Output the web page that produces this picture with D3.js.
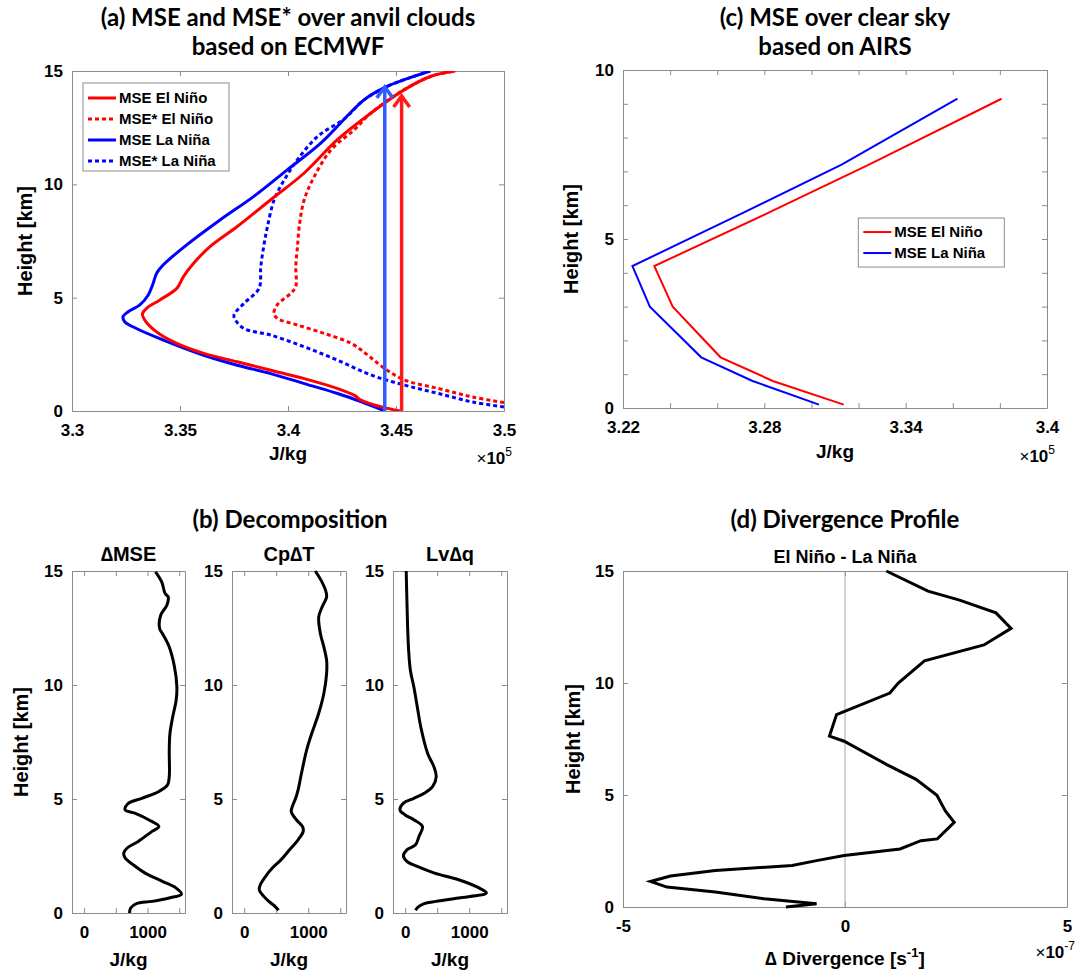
<!DOCTYPE html>
<html>
<head>
<meta charset="utf-8">
<script src="https://cdn.jsdelivr.net/npm/d3@7"></script>
<style>
  body { margin: 0; background: #fff; }
  text { font-family: "Liberation Sans", Arial, sans-serif; font-weight: bold; fill: #000; }
  .ttl { font-family: Lato, "Open Sans", sans-serif; font-weight: bold; }
</style>
</head>
<body>
<div id="chart"></div>
<script>
// ---- panel (a): ECMWF, heights in km, MSE in 1e5 J/kg
var mseNinoZ = [0, 0.18, 0.47, 0.69, 0.99, 1.43, 1.8, 2.17, 2.54, 2.98, 3.5, 4.01, 4.28, 4.53, 4.9, 5.41, 5.93, 6.52, 7.26, 8.14, 9.32, 10.5, 11.98, 13.16, 14.19, 14.78, 15];
var mseNinoX = [3.4519, 3.4433, 3.434, 3.4308, 3.423, 3.4075, 3.392, 3.3765, 3.361, 3.3485, 3.339, 3.3337, 3.3326, 3.3345, 3.3407, 3.3485, 3.3516, 3.3563, 3.364, 3.3765, 3.392, 3.4075, 3.423, 3.4386, 3.4541, 3.4666, 3.4774];
var mseNinaZ = [0, 0.4, 0.77, 1.21, 1.65, 2.02, 2.46, 3.13, 3.64, 3.94, 4.16, 4.38, 4.68, 5.12, 5.56, 6.08, 6.45, 7.33, 8.44, 9.47, 10.65, 11.83, 13.75, 14.34, 14.63, 15];
var mseNinaX = [3.4448, 3.434, 3.423, 3.4075, 3.392, 3.3765, 3.361, 3.3423, 3.3298, 3.3244, 3.3236, 3.326, 3.3314, 3.3353, 3.3373, 3.3392, 3.3423, 3.3531, 3.3687, 3.3842, 3.3998, 3.4153, 3.4355, 3.4464, 3.4542, 3.4658];
var mseStarNinoZ = [0.37, 0.62, 0.99, 1.36, 1.87, 2.46, 2.98, 3.42, 3.79, 4.09, 4.31, 4.68, 5.19, 5.49, 6.37, 7.26, 8.14, 9.32, 10.35, 11.53, 12.42, 13.16, 14.19, 14.78, 15];
var mseStarNinoX = [3.5, 3.4853, 3.4697, 3.4541, 3.4448, 3.437, 3.4293, 3.4169, 3.4044, 3.395, 3.3935, 3.395, 3.4013, 3.4036, 3.4036, 3.4044, 3.4052, 3.4075, 3.4122, 3.42, 3.4308, 3.4386, 3.4541, 3.4666, 3.4774];
var mseStarNinaZ = [0.18, 0.4, 0.77, 1.14, 1.58, 2.24, 2.83, 3.35, 3.64, 4.01, 4.23, 4.75, 5.41, 6.37, 7.4, 8.14, 9.32, 10.2, 11.09, 12.12, 12.9, 13.75, 14.34, 14.63, 15];
var mseStarNinaX = [3.5, 3.4853, 3.4697, 3.4541, 3.4386, 3.423, 3.4075, 3.392, 3.3796, 3.3757, 3.375, 3.3796, 3.3866, 3.3874, 3.389, 3.3905, 3.3936, 3.3983, 3.4044, 3.4138, 3.4262, 3.4355, 3.4464, 3.4542, 3.4658];
var arrowX = [3.4448, 3.4526];
var arrowTop = [14.3, 13.9];
var arrowColors = ["#2f5dff", "#ff1a1a"];

// ---- panel (c): AIRS clear sky
var airsZ = [0.1, 0.8, 1.5, 3.0, 4.2, 5.8, 7.2, 9.15];
var airsNino = [3.3137, 3.2836, 3.2614, 3.2411, 3.2333, 3.2825, 3.3244, 3.3807];
var airsNina = [3.3032, 3.275, 3.2532, 3.2314, 3.224, 3.2718, 3.3128, 3.362];

// ---- panel (b): decomposition, J/kg
var dMseZ = [0, 0.22, 0.41, 0.51, 0.66, 0.83, 1.09, 1.39, 1.75, 2.12, 2.41, 2.63, 2.85, 3.14, 3.58, 3.79, 4.09, 4.38, 4.52, 4.79, 5.03, 5.33, 5.62, 5.98, 7.15, 7.88, 8.61, 9.34, 9.92, 10.8, 11.67, 12.26, 12.48, 13.06, 13.5, 13.86, 14.01, 14.52, 14.96];
var dMseX = [717, 734, 826, 1071, 1342, 1535, 1451, 1234, 962, 772, 647, 625, 679, 853, 1071, 1179, 1016, 799, 647, 690, 908, 1179, 1315, 1342, 1342, 1353, 1397, 1451, 1462, 1424, 1342, 1234, 1190, 1207, 1304, 1326, 1277, 1223, 1125];
var cpDtZ = [0.12, 0.26, 0.51, 0.73, 1.02, 1.24, 1.6, 1.97, 2.33, 2.77, 3.21, 3.58, 3.79, 4.09, 4.45, 4.74, 5.03, 5.4, 6.13, 7.15, 7.88, 8.76, 9.63, 10.5, 11.09, 11.67, 12.26, 12.99, 13.42, 13.86, 14.15, 14.59, 15];
var cpDtX = [536, 493, 386, 306, 236, 252, 332, 440, 574, 708, 842, 922, 912, 815, 735, 761, 804, 842, 895, 976, 1056, 1164, 1244, 1287, 1287, 1244, 1190, 1164, 1217, 1287, 1271, 1201, 1110];
var lvDqZ = [0.12, 0.26, 0.41, 0.51, 0.66, 0.88, 1.09, 1.46, 1.75, 2.04, 2.26, 2.51, 2.77, 2.99, 3.36, 3.79, 4.09, 4.3, 4.52, 4.82, 5.03, 5.25, 5.55, 5.98, 6.42, 7.0, 8.17, 9.05, 9.92, 10.65, 11.53, 12.55, 13.72, 15];
var lvDqX = [162, 200, 297, 485, 836, 1268, 1160, 836, 458, 189, 27, -27, 27, 162, 216, 270, 135, 0, -81, -27, 135, 297, 431, 485, 448, 351, 243, 189, 135, 81, 54, 38, 27, 16];
var decompTitles = ["\u2206MSE", "Cp\u2206T", "Lv\u2206q"];

// ---- panel (d): divergence difference, 1e-7 s^-1
var divZ = [0, 0.15, 0.37, 0.67, 0.89, 1.14, 1.38, 1.63, 1.85, 2.07, 2.3, 2.59, 2.96, 3.04, 3.78, 4.29, 4.99, 5.7, 6.37, 7.4, 7.63, 8.59, 9.55, 10.0, 10.99, 11.7, 12.44, 13.13, 13.7, 14.1, 15];
var divX = [-1.33, -0.64, -1.82, -2.92, -4.01, -4.38, -3.93, -2.92, -1.19, -0.64, -0.02, 1.24, 1.71, 2.08, 2.46, 2.26, 2.07, 1.6, 0.93, -0.02, -0.35, -0.19, 1.01, 1.2, 1.79, 3.13, 3.74, 3.4, 2.58, 1.87, 0.93];

var svg = d3.select("#chart").append("svg")
    .attr("width", 1086).attr("height", 972);
svg.append("rect").attr("width", 1086).attr("height", 972).attr("fill", "#fff");

var axisGray = "#8c8c8c";

// draws a MATLAB-like boxed axes and returns its scales
function makeAxes(b, xDom, yDom, xTicks, xLab, yTicks, yLab, fmt) {
  var x = d3.scaleLinear().domain(xDom).range([b.x, b.x + b.w]);
  var y = d3.scaleLinear().domain(yDom).range([b.y + b.h, b.y]);
  var g = svg.append("g");
  function lab(list) { return function(d) { return list.indexOf(d) >= 0 ? fmt(d) : ""; }; }
  var ax = [
    [d3.axisBottom(x).tickValues(xTicks).tickFormat(lab(xLab)).tickPadding(13), "translate(0," + (b.y + b.h) + ")"],
    [d3.axisTop(x).tickValues(xTicks).tickFormat(""), "translate(0," + b.y + ")"],
    [d3.axisLeft(y).tickValues(yTicks).tickFormat(lab(yLab)).tickPadding(9), "translate(" + b.x + ",0)"],
    [d3.axisRight(y).tickValues(yTicks).tickFormat(""), "translate(" + (b.x + b.w) + ",0)"]
  ];
  ax.forEach(function(a) {
    var s = g.append("g").attr("transform", a[1])
      .call(a[0].tickSizeInner(-5).tickSizeOuter(0));
    s.select(".domain").attr("stroke", axisGray);
    s.selectAll(".tick line").attr("stroke", axisGray);
    s.selectAll(".tick text").attr("font-size", 17).attr("fill", "#000")
      .attr("font-family", "Liberation Sans, Arial, sans-serif").attr("font-weight", "bold");
  });
  return {x: x, y: y};
}

function line(sc, xs, zs, curve) {
  return d3.line().curve(curve || d3.curveLinear)
    .x(function(d, i) { return sc.x(xs[i]); }).y(function(d, i) { return sc.y(zs[i]); })(zs);
}

function yLabel(cx, cy) {
  svg.append("text").attr("transform", "translate(" + cx + "," + cy + ") rotate(-90)")
    .attr("text-anchor", "middle").attr("font-size", 20).text("Height [km]");
}

function expLabel(xr, yy, base, exp) {
  var t = svg.append("text").attr("x", xr).attr("y", yy).attr("text-anchor", "end").attr("font-size", 17);
  t.append("tspan").attr("font-weight", "normal").text("\u00d7");
  t.append("tspan").text(base);
  t.append("tspan").attr("dy", -8).attr("font-size", 12).attr("font-weight", "normal").text(exp);
}

function title(cx, cy, txt, size) {
  svg.append("text").attr("class", "ttl").attr("x", cx).attr("y", cy)
    .attr("text-anchor", "middle").attr("font-size", size || 24).text(txt);
}

var smooth = d3.curveCatmullRom.alpha(0.5);

// ================= panel (a)
var fmtA = function(d) { return String(+d.toFixed(2)); };
var bA = {x: 72, y: 71, w: 432, h: 340};
var sA = makeAxes(bA, [3.3, 3.5], [0, 15], [3.3, 3.35, 3.4, 3.45, 3.5], [3.3, 3.35, 3.4, 3.45, 3.5],
  [0, 5, 10, 15], [0, 5, 10, 15], fmtA);
var aSeries = [
  {xs: mseStarNinaX, zs: mseStarNinaZ, c: "#0000ff", dash: "4,3"},
  {xs: mseStarNinoX, zs: mseStarNinoZ, c: "#ff0000", dash: "4,3"},
  {xs: mseNinaX, zs: mseNinaZ, c: "#0000ff", dash: null},
  {xs: mseNinoX, zs: mseNinoZ, c: "#ff0000", dash: null}
];
svg.append("clipPath").attr("id", "clipA").append("rect")
  .attr("x", bA.x).attr("y", bA.y).attr("width", bA.w).attr("height", bA.h);
aSeries.forEach(function(s) {
  svg.append("path").attr("d", line(sA, s.xs, s.zs, smooth)).attr("fill", "none")
    .attr("stroke", s.c).attr("stroke-width", 3).attr("stroke-dasharray", s.dash)
    .attr("clip-path", "url(#clipA)");
});
arrowX.forEach(function(v, i) {
  var px = sA.x(v), top = sA.y(arrowTop[i]);
  svg.append("line").attr("x1", px).attr("x2", px).attr("y1", sA.y(0)).attr("y2", top + 1)
    .attr("stroke", arrowColors[i]).attr("stroke-width", 3.5);
  svg.append("path").attr("d", "M" + (px - 8) + "," + (top + 11) + "L" + px + "," + top + "L" + (px + 8) + "," + (top + 11))
    .attr("fill", "none").attr("stroke", arrowColors[i]).attr("stroke-width", 3.5);
});
var legA = [["MSE El Ni\u00f1o", "#ff0000", null], ["MSE* El Ni\u00f1o", "#ff0000", "4,3"],
            ["MSE La Ni\u00f1a", "#0000ff", null], ["MSE* La Ni\u00f1a", "#0000ff", "4,3"]];
var lgA = svg.append("g").attr("transform", "translate(" + (bA.x + 11) + "," + (bA.y + 12) + ")");
lgA.append("rect").attr("width", 146).attr("height", 88).attr("fill", "#fff").attr("stroke", "#8c8c8c");
legA.forEach(function(d, i) {
  var yy = 15 + i * 21;
  lgA.append("line").attr("x1", 5).attr("x2", 33).attr("y1", yy).attr("y2", yy)
    .attr("stroke", d[1]).attr("stroke-width", 3).attr("stroke-dasharray", d[2]);
  lgA.append("text").attr("x", 36).attr("y", yy + 5).attr("font-size", 15).text(d[0]);
});
yLabel(32, bA.y + bA.h / 2);
svg.append("text").attr("x", bA.x + bA.w / 2).attr("y", 460).attr("text-anchor", "middle").attr("font-size", 19).text("J/kg");
expLabel(bA.x + bA.w + 8, 464, "10", "5");
title(bA.x + bA.w / 2, 26, "(a) MSE and MSE* over anvil clouds");
title(bA.x + bA.w / 2, 55, "based on ECMWF");

// ================= panel (c)
var bC = {x: 623, y: 70, w: 424, h: 338};
var cTicks = [3.22, 3.24, 3.26, 3.28, 3.30, 3.32, 3.34, 3.36, 3.38, 3.40];
var sC = makeAxes(bC, [3.22, 3.40], [0, 10], cTicks, [3.22, 3.28, 3.34, 3.40],
  d3.range(0, 11), [0, 5, 10], fmtA);
[[airsNina, "#0000ff"], [airsNino, "#ff0000"]].forEach(function(s) {
  svg.append("path").attr("d", line(sC, s[0], airsZ)).attr("fill", "none")
    .attr("stroke", s[1]).attr("stroke-width", 2);
});
var legC = [["MSE El Ni\u00f1o", "#ff0000"], ["MSE La Ni\u00f1a", "#0000ff"]];
var lgC = svg.append("g").attr("transform", "translate(" + (bC.x + 0.555 * bC.w) + "," + (bC.y + 0.438 * bC.h) + ")");
lgC.append("rect").attr("width", 146).attr("height", 49).attr("fill", "#fff").attr("stroke", "#8c8c8c");
legC.forEach(function(d, i) {
  var yy = 14 + i * 21;
  lgC.append("line").attr("x1", 5).attr("x2", 33).attr("y1", yy).attr("y2", yy)
    .attr("stroke", d[1]).attr("stroke-width", 2);
  lgC.append("text").attr("x", 36).attr("y", yy + 5).attr("font-size", 15).text(d[0]);
});
yLabel(578, bC.y + bC.h / 2);
svg.append("text").attr("x", bC.x + bC.w / 2).attr("y", 458).attr("text-anchor", "middle").attr("font-size", 19).text("J/kg");
expLabel(bC.x + bC.w + 8, 462, "10", "5");
title(bC.x + bC.w / 2, 26, "(c) MSE over clear sky");
title(bC.x + bC.w / 2, 55, "based on AIRS");

// ================= panel (b)
var bBs = [{x: 72, y: 571, w: 113, h: 342}, {x: 232, y: 571, w: 114, h: 342}, {x: 393, y: 571, w: 114, h: 342}];
var bData = [[dMseX, dMseZ], [cpDtX, cpDtZ], [lvDqX, lvDqZ]];
bBs.forEach(function(b, i) {
  var s = makeAxes(b, [-190, 1590], [0, 15], [0, 500, 1000, 1500], [0, 1000],
    [0, 5, 10, 15], [0, 5, 10, 15], function(d) { return String(d); });
  svg.append("path").attr("d", line(s, bData[i][0], bData[i][1], smooth)).attr("fill", "none")
    .attr("stroke", "#000").attr("stroke-width", 3);
  svg.append("text").attr("x", b.x + b.w / 2).attr("y", 561).attr("text-anchor", "middle")
    .attr("font-size", 20).text(decompTitles[i]);
  svg.append("text").attr("x", b.x + b.w / 2).attr("y", 966).attr("text-anchor", "middle")
    .attr("font-size", 19).text("J/kg");
});
yLabel(28, 571 + 171);
title(290, 528, "(b) Decomposition");

// ================= panel (d)
var bD = {x: 623, y: 571, w: 444, h: 336};
var sD = makeAxes(bD, [-5, 5], [0, 15], [-5, 0, 5], [-5, 0, 5],
  [0, 5, 10, 15], [0, 5, 10, 15], function(d) { return String(d); });
svg.append("line").attr("x1", sD.x(0)).attr("x2", sD.x(0)).attr("y1", sD.y(0)).attr("y2", sD.y(15))
  .attr("stroke", "#a6a6a6").attr("stroke-width", 1);
svg.append("path").attr("d", line(sD, divX, divZ)).attr("fill", "none")
  .attr("stroke", "#000").attr("stroke-width", 3);
yLabel(580, bD.y + bD.h / 2);
var dl = svg.append("text").attr("x", bD.x + bD.w / 2).attr("y", 965).attr("text-anchor", "middle").attr("font-size", 19);
dl.append("tspan").text("\u2206 Divergence [s");
dl.append("tspan").attr("dy", -8).attr("font-size", 13).text("-1");
dl.append("tspan").attr("dy", 8).text("]");
expLabel(bD.x + bD.w + 8, 958, "10", "-7");
title(bD.x + bD.w / 2, 528, "(d) Divergence Profile");
svg.append("text").attr("x", bD.x + bD.w / 2).attr("y", 563).attr("text-anchor", "middle")
  .attr("font-size", 18).text("El Ni\u00f1o - La Ni\u00f1a");
</script>
</body>
</html>
